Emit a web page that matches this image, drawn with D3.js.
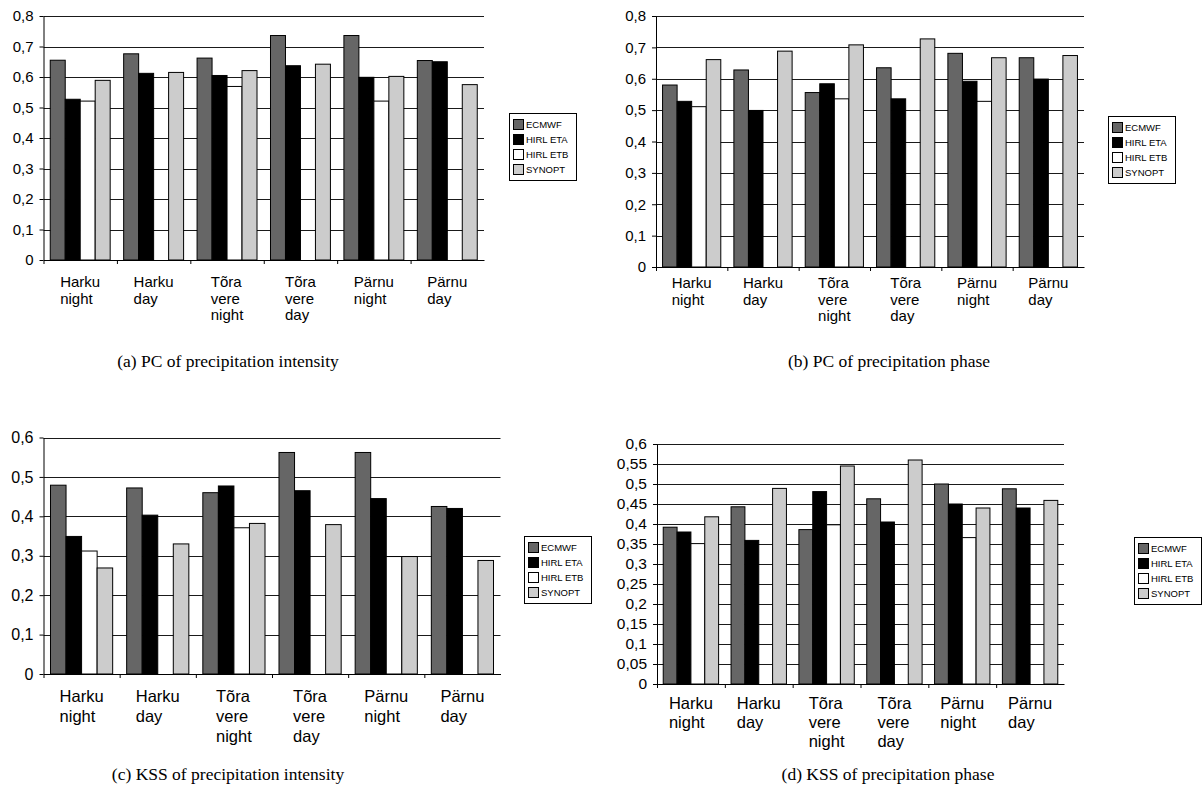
<!DOCTYPE html>
<html>
<head>
<meta charset="utf-8">
<script src="https://cdn.jsdelivr.net/npm/d3@7/dist/d3.min.js"></script>
<style>
    body { margin: 0; background: #fff; }
    svg { display: block; }
    .tick text, .cat, .legend text { font-family: "Liberation Sans", Arial, sans-serif; fill: #000; }
    .caption { font-family: "Liberation Serif", "Times New Roman", serif; font-size: 17.5px; fill: #000; }
</style>
</head>
<body>
<svg id="chart" width="1203" height="797"></svg>
<script>
// categories (station / time of day), one array of lines per label
var categories = [
    ["Harku", "night"],
    ["Harku", "day"],
    ["Tõra", "vere", "night"],
    ["Tõra", "vere", "day"],
    ["Pärnu", "night"],
    ["Pärnu", "day"]
];
var seriesNames = ["ECMWF", "HIRL ETA", "HIRL ETB", "SYNOPT"];
var seriesFill = ["#666666", "#000000", "#ffffff", "#cccccc"];

// (a) PC of precipitation intensity
var pcIntensityECMWF = [0.655, 0.676, 0.662, 0.736, 0.736, 0.654];
var pcIntensityETA   = [0.527, 0.612, 0.605, 0.637, 0.599, 0.650];
var pcIntensityETB   = [0.521, 0,     0.569, 0,     0.521, 0];
var pcIntensitySYN   = [0.589, 0.615, 0.621, 0.642, 0.602, 0.575];

// (b) PC of precipitation phase
var pcPhaseECMWF = [0.580, 0.628, 0.556, 0.635, 0.681, 0.667];
var pcPhaseETA   = [0.528, 0.499, 0.584, 0.536, 0.592, 0.599];
var pcPhaseETB   = [0.511, 0,     0.536, 0,     0.528, 0];
var pcPhaseSYN   = [0.661, 0.688, 0.708, 0.727, 0.667, 0.674];

// (c) KSS of precipitation intensity
var kssIntensityECMWF = [0.479, 0.472, 0.460, 0.562, 0.562, 0.425];
var kssIntensityETA   = [0.349, 0.403, 0.477, 0.465, 0.445, 0.420];
var kssIntensityETB   = [0.312, 0,     0.371, 0,     0.298, 0];
var kssIntensitySYN   = [0.269, 0.330, 0.382, 0.379, 0.298, 0.288];

// (d) KSS of precipitation phase
var kssPhaseECMWF = [0.392, 0.443, 0.386, 0.463, 0.500, 0.488];
var kssPhaseETA   = [0.380, 0.359, 0.481, 0.405, 0.450, 0.440];
var kssPhaseETB   = [0.351, 0,     0.398, 0,     0.366, 0];
var kssPhaseSYN   = [0.418, 0.489, 0.545, 0.560, 0.440, 0.459];

// y tick values
var ticksTo08 = [0, 0.1, 0.2, 0.3, 0.4, 0.5, 0.6, 0.7, 0.8];
var ticksTo06 = [0, 0.1, 0.2, 0.3, 0.4, 0.5, 0.6];
var ticksTo06Fine = [0, 0.05, 0.1, 0.15, 0.2, 0.25, 0.3, 0.35, 0.4, 0.45, 0.5, 0.55, 0.6];

var captions = [
    "(a) PC of precipitation intensity",
    "(b) PC of precipitation phase",
    "(c) KSS of precipitation intensity",
    "(d) KSS of precipitation phase"
];

// layout of the four panels
var panels = [
    { series: [pcIntensityECMWF, pcIntensityETA, pcIntensityETB, pcIntensitySYN], ticks: ticksTo08,
      left: 43.5, right: 484, top: 16, bottom: 260, font: 15, yFont: 15, lh: 16.5, labOff: 27,
      legend: [509, 113], cap: [228, 367] },
    { series: [pcPhaseECMWF, pcPhaseETA, pcPhaseETB, pcPhaseSYN], ticks: ticksTo08,
      left: 656, right: 1084, top: 16, bottom: 267, font: 15, yFont: 15, lh: 16.5, labOff: 21,
      legend: [1108, 116], cap: [889, 367] },
    { series: [kssIntensityECMWF, kssIntensityETA, kssIntensityETB, kssIntensitySYN], ticks: ticksTo06,
      left: 43.5, right: 500.5, top: 437.5, bottom: 674, font: 16.5, yFont: 16, lh: 20, labOff: 28,
      legend: [524, 536], cap: [228, 780] },
    { series: [kssPhaseECMWF, kssPhaseETA, kssPhaseETB, kssPhaseSYN], ticks: ticksTo06Fine,
      left: 657, right: 1064, top: 444, bottom: 684, font: 16.5, yFont: 15.5, lh: 19, labOff: 25,
      legend: [1134, 537], cap: [888, 780] }
];

var svg = d3.select("#chart");

function fmt(v) {
    return v === 0 ? "0" : String(+v.toFixed(2)).replace(".", ",");
}

function drawPanel(p, idx) {
    var g = svg.append("g").attr("class", "panel");

    var y = d3.scaleLinear()
        .domain([0, p.ticks[p.ticks.length - 1]])
        .range([p.bottom, p.top]);

    var x0 = d3.scaleBand()
        .domain(d3.range(categories.length))
        .range([p.left, p.right])
        .paddingInner(0).paddingOuter(0);

    var x1 = d3.scaleBand()
        .domain(d3.range(seriesNames.length))
        .range([0, x0.bandwidth()])
        .paddingInner(0).paddingOuter(0.45);

    // gridlines
    g.append("g").selectAll("line")
        .data(p.ticks.filter(function(t) { return t > 0; }))
        .enter().append("line")
        .attr("x1", p.left).attr("x2", p.right)
        .attr("y1", function(d) { return Math.round(y(d)) + 0.5; })
        .attr("y2", function(d) { return Math.round(y(d)) + 0.5; })
        .style("stroke", "#1a1a1a").style("stroke-width", 1);

    // bars
    var rows = [];
    categories.forEach(function(c, ci) {
        p.series.forEach(function(vals, si) {
            rows.push({ c: ci, s: si, v: vals[ci] });
        });
    });

    g.append("g").selectAll("rect")
        .data(rows)
        .enter().append("rect")
        .attr("x", function(d) { return x0(d.c) + x1(d.s); })
        .attr("y", function(d) { return y(d.v); })
        .attr("width", x1.bandwidth())
        .attr("height", function(d) { return p.bottom - y(d.v); })
        .style("fill", function(d) { return seriesFill[d.s]; })
        .style("stroke", "#000")
        .style("stroke-width", 1);

    // y axis
    var yAxis = d3.axisLeft(y)
        .tickValues(p.ticks)
        .tickFormat(fmt)
        .tickSize(4)
        .tickSizeOuter(0)
        .tickPadding(6);

    var ya = g.append("g")
        .attr("transform", "translate(" + p.left + ",0)")
        .call(yAxis);
    ya.selectAll("text").style("font-size", p.yFont + "px");
    ya.selectAll("path, line").style("stroke", "#000");

    // x axis: ticks at category boundaries
    var xb = d3.scaleLinear().domain([0, categories.length]).range([p.left, p.right]);
    var xAxis = d3.axisBottom(xb)
        .tickValues(d3.range(categories.length))
        .tickFormat("")
        .tickSize(4)
        .tickSizeOuter(0);

    var xa = g.append("g")
        .attr("transform", "translate(0," + p.bottom + ")")
        .call(xAxis);
    xa.selectAll("path, line").style("stroke", "#000");

    // category labels: left aligned lines, block centered in the band
    categories.forEach(function(lines, ci) {
        var t = g.append("text")
            .attr("class", "cat")
            .style("font-size", p.font + "px");
        lines.forEach(function(line, li) {
            t.append("tspan")
                .attr("y", p.bottom + p.labOff + li * p.lh)
                .text(line);
        });
        var w = 0;
        t.selectAll("tspan").each(function() {
            w = Math.max(w, this.getComputedTextLength());
        });
        t.selectAll("tspan").attr("x", x0(ci) + (x0.bandwidth() - w) / 2);
    });

    // legend
    var lg = g.append("g")
        .attr("class", "legend")
        .attr("transform", "translate(" + p.legend[0] + "," + p.legend[1] + ")");

    lg.append("rect")
        .attr("x", 0.5).attr("y", 0.5)
        .attr("width", 67).attr("height", 67)
        .style("fill", "#fff").style("stroke", "#000").style("stroke-width", 1);

    var item = lg.selectAll("g.item")
        .data(seriesNames)
        .enter().append("g")
        .attr("class", "item")
        .attr("transform", function(d, i) { return "translate(0," + (11 + i * 15) + ")"; });

    item.append("rect")
        .attr("x", 4.5).attr("y", -4.5)
        .attr("width", 10).attr("height", 10)
        .style("fill", function(d, i) { return seriesFill[i]; })
        .style("stroke", "#000");

    item.append("text")
        .attr("x", 17)
        .attr("y", 4)
        .style("font-size", "9.5px")
        .text(function(d) { return d; });

    // caption
    svg.append("text")
        .attr("class", "caption")
        .attr("x", p.cap[0])
        .attr("y", p.cap[1])
        .attr("text-anchor", "middle")
        .text(captions[idx]);
}

panels.forEach(drawPanel);
</script>
</body>
</html>
